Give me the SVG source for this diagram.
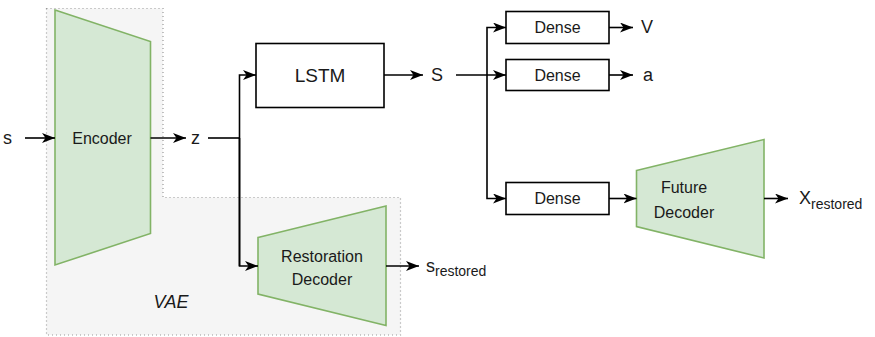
<svg xmlns="http://www.w3.org/2000/svg" width="875" height="337" viewBox="0 0 875 337">
  <defs>
    <marker id="arrow" markerUnits="userSpaceOnUse" viewBox="0 0 13 10" refX="13" refY="5" markerWidth="13" markerHeight="10" orient="auto">
      <path d="M0,0 L13,5 L0,10 L3.5,5 Z" fill="#000"/>
    </marker>
  </defs>
  <style>
    text { font-family: "Liberation Sans", Arial, Helvetica, sans-serif; fill: #1a1a1a; }
    .lbl { font-size: 16px; text-anchor: middle; }
    .io { font-size: 18px; }
    .sub { font-size: 14px; }
    .box { fill: #ffffff; stroke: #000; stroke-width: 1.6; }
    .trap { fill: #d5e8d4; stroke: #82b366; stroke-width: 1.6; }
    .wire { fill: none; stroke: #000; stroke-width: 1.6; }
    .arr { marker-end: url(#arrow); }
  </style>

  <!-- VAE grouping region -->
  <g id="vae">
    <path d="M46.5,8.5 H163 V197.5 H400.5 V335 H46.5 Z" fill="#f5f5f5" stroke="#999" stroke-width="1.2" stroke-dasharray="1 3"/>
    <text x="171" y="308" font-size="18" font-style="italic" text-anchor="middle">VAE</text>
  </g>

  <g id="encoder">
    <path class="trap" d="M55,10 L150.5,41.5 L150.5,233.5 L55,265 Z"/>
    <text class="lbl" x="102" y="143.5">Encoder</text>
  </g>

  <g id="lstm">
    <rect class="box" x="256" y="43.5" width="128" height="64"/>
    <text x="320" y="82" font-size="19" text-anchor="middle">LSTM</text>
  </g>

  <g id="restoration-decoder">
    <path class="trap" d="M258,237.5 L386,206 L386,325.5 L258,294 Z"/>
    <text class="lbl" x="322" y="261.5">Restoration</text>
    <text class="lbl" x="322" y="285">Decoder</text>
  </g>

  <g id="dense-v">
    <rect class="box" x="506" y="11.5" width="103" height="32"/>
    <text class="lbl" x="557.5" y="33">Dense</text>
  </g>

  <g id="dense-a">
    <rect class="box" x="506" y="59.5" width="103" height="31"/>
    <text class="lbl" x="557.5" y="80.5">Dense</text>
  </g>

  <g id="dense-future">
    <rect class="box" x="506" y="182.5" width="103" height="32"/>
    <text class="lbl" x="557.5" y="204">Dense</text>
  </g>

  <g id="future-decoder">
    <path class="trap" d="M636.5,170.5 L764,139.5 L764,258 L636.5,226.5 Z"/>
    <text class="lbl" x="684" y="193">Future</text>
    <text class="lbl" x="684" y="218">Decoder</text>
  </g>

  <!-- signal labels -->
  <g id="labels">
    <text class="io" x="3" y="144">s</text>
    <text class="io" x="191" y="144">z</text>
    <text class="io" x="431" y="81">S</text>
    <text class="io" x="641" y="33">V</text>
    <text class="io" x="643" y="81">a</text>
    <text x="426" y="272"><tspan class="io">s</tspan><tspan class="sub" dy="4">restored</tspan></text>
    <text x="799" y="204"><tspan class="io">X</tspan><tspan class="sub" dy="5">restored</tspan></text>
  </g>

  <!-- connectors -->
  <g id="connectors">
    <path class="wire arr" d="M25,138 H55"/>
    <path class="wire arr" d="M150.5,138 H186"/>
    <path class="wire" d="M208,138 H239.5"/>
    <path class="wire arr" d="M239.5,266 V75 H256"/>
    <path class="wire arr" d="M239.5,138 V266 H258"/>
    <path class="wire arr" d="M384,75 H423"/>
    <path class="wire arr" d="M456,75 H506"/>
    <path class="wire arr" d="M487,75 V27.5 H506"/>
    <path class="wire arr" d="M487,75 V198.5 H506"/>
    <path class="wire arr" d="M609,27.5 H633"/>
    <path class="wire arr" d="M609,75 H633"/>
    <path class="wire arr" d="M609,198.5 H636.5"/>
    <path class="wire arr" d="M764,198.5 H788"/>
    <path class="wire arr" d="M386,266 H419"/>
  </g>
</svg>
